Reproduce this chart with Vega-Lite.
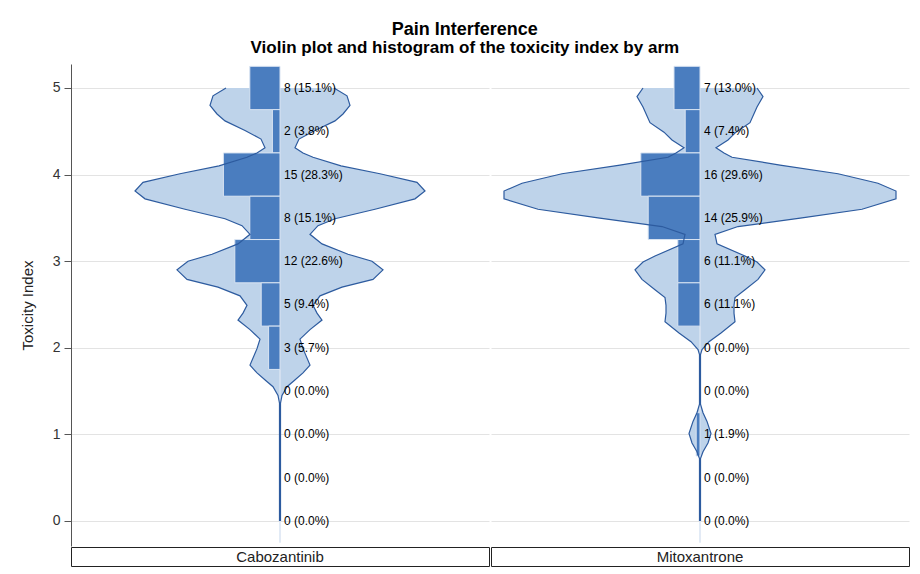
{
  "$schema": "https://vega.github.io/schema/vega-lite/v6.json",
  "autosize": {"type": "pad"},
  "padding": {"left": 20, "top": 21, "right": 11, "bottom": 2},
  "background": "white",
  "title": {
    "text": "Pain Interference",
    "subtitle": "Violin plot and histogram of the toxicity index by arm",
    "anchor": "middle",
    "frame": "bounds",
    "font": "Liberation Sans",
    "fontSize": 18,
    "fontWeight": "bold",
    "color": "#000000",
    "subtitleFont": "Liberation Sans",
    "subtitleFontSize": 17,
    "subtitleFontWeight": "bold",
    "subtitleColor": "#000000",
    "subtitlePadding": 1,
    "offset": 8
  },
  "config": {
    "font": "Liberation Sans",
    "view": {"stroke": null},
    "axisY": {
      "grid": true,
      "gridColor": "#E3E3E3",
      "tickSize": 7,
      "tickColor": "#555555",
      "domainColor": "#555555",
      "labelFontSize": 14,
      "labelColor": "#333333",
      "labelPadding": 4,
      "titleFontSize": 15,
      "titleFontWeight": "normal",
      "titleColor": "#222222",
      "titlePadding": 17
    }
  },
  "datasets": {
    "violin": [
      {"arm": "Cabozantinib", "val": 5.00, "density": 27},
      {"arm": "Cabozantinib", "val": 4.91, "density": 33.5},
      {"arm": "Cabozantinib", "val": 4.80, "density": 35},
      {"arm": "Cabozantinib", "val": 4.70, "density": 31.5},
      {"arm": "Cabozantinib", "val": 4.62, "density": 27.5},
      {"arm": "Cabozantinib", "val": 4.51, "density": 17.5},
      {"arm": "Cabozantinib", "val": 4.41, "density": 9.5},
      {"arm": "Cabozantinib", "val": 4.31, "density": 7.5},
      {"arm": "Cabozantinib", "val": 4.25, "density": 11.5},
      {"arm": "Cabozantinib", "val": 4.20, "density": 16.5},
      {"arm": "Cabozantinib", "val": 4.10, "density": 30.5},
      {"arm": "Cabozantinib", "val": 4.01, "density": 50},
      {"arm": "Cabozantinib", "val": 3.91, "density": 68.5},
      {"arm": "Cabozantinib", "val": 3.81, "density": 72.5},
      {"arm": "Cabozantinib", "val": 3.72, "density": 67.5},
      {"arm": "Cabozantinib", "val": 3.60, "density": 47.5},
      {"arm": "Cabozantinib", "val": 3.49, "density": 27.5},
      {"arm": "Cabozantinib", "val": 3.41, "density": 19},
      {"arm": "Cabozantinib", "val": 3.31, "density": 15},
      {"arm": "Cabozantinib", "val": 3.20, "density": 21},
      {"arm": "Cabozantinib", "val": 3.08, "density": 34},
      {"arm": "Cabozantinib", "val": 3.00, "density": 46},
      {"arm": "Cabozantinib", "val": 2.90, "density": 51.5},
      {"arm": "Cabozantinib", "val": 2.79, "density": 46.5},
      {"arm": "Cabozantinib", "val": 2.70, "density": 31},
      {"arm": "Cabozantinib", "val": 2.60, "density": 20},
      {"arm": "Cabozantinib", "val": 2.49, "density": 16.5},
      {"arm": "Cabozantinib", "val": 2.40, "density": 18.5},
      {"arm": "Cabozantinib", "val": 2.32, "density": 21},
      {"arm": "Cabozantinib", "val": 2.21, "density": 15},
      {"arm": "Cabozantinib", "val": 2.10, "density": 10},
      {"arm": "Cabozantinib", "val": 1.99, "density": 11.5},
      {"arm": "Cabozantinib", "val": 1.80, "density": 15},
      {"arm": "Cabozantinib", "val": 1.71, "density": 11.5},
      {"arm": "Cabozantinib", "val": 1.62, "density": 7},
      {"arm": "Cabozantinib", "val": 1.55, "density": 3.5},
      {"arm": "Cabozantinib", "val": 1.45, "density": 1},
      {"arm": "Cabozantinib", "val": 1.36, "density": 0.25},
      {"arm": "Cabozantinib", "val": 0.00, "density": 0.25},
      {"arm": "Mitoxantrone", "val": 5.00, "density": 28.5},
      {"arm": "Mitoxantrone", "val": 4.90, "density": 31.5},
      {"arm": "Mitoxantrone", "val": 4.78, "density": 28.5},
      {"arm": "Mitoxantrone", "val": 4.60, "density": 25},
      {"arm": "Mitoxantrone", "val": 4.49, "density": 18},
      {"arm": "Mitoxantrone", "val": 4.40, "density": 14},
      {"arm": "Mitoxantrone", "val": 4.31, "density": 8},
      {"arm": "Mitoxantrone", "val": 4.25, "density": 12},
      {"arm": "Mitoxantrone", "val": 4.20, "density": 16},
      {"arm": "Mitoxantrone", "val": 4.11, "density": 40},
      {"arm": "Mitoxantrone", "val": 4.01, "density": 69},
      {"arm": "Mitoxantrone", "val": 3.90, "density": 89},
      {"arm": "Mitoxantrone", "val": 3.81, "density": 98},
      {"arm": "Mitoxantrone", "val": 3.72, "density": 98},
      {"arm": "Mitoxantrone", "val": 3.60, "density": 81},
      {"arm": "Mitoxantrone", "val": 3.50, "density": 51},
      {"arm": "Mitoxantrone", "val": 3.40, "density": 19},
      {"arm": "Mitoxantrone", "val": 3.31, "density": 7.5},
      {"arm": "Mitoxantrone", "val": 3.20, "density": 8.5},
      {"arm": "Mitoxantrone", "val": 3.06, "density": 22.5},
      {"arm": "Mitoxantrone", "val": 2.99, "density": 28.5},
      {"arm": "Mitoxantrone", "val": 2.90, "density": 32.5},
      {"arm": "Mitoxantrone", "val": 2.79, "density": 29},
      {"arm": "Mitoxantrone", "val": 2.67, "density": 22.5},
      {"arm": "Mitoxantrone", "val": 2.58, "density": 17.5},
      {"arm": "Mitoxantrone", "val": 2.49, "density": 17},
      {"arm": "Mitoxantrone", "val": 2.40, "density": 17},
      {"arm": "Mitoxantrone", "val": 2.30, "density": 17.5},
      {"arm": "Mitoxantrone", "val": 2.17, "density": 10.5},
      {"arm": "Mitoxantrone", "val": 2.07, "density": 4.5},
      {"arm": "Mitoxantrone", "val": 1.98, "density": 1},
      {"arm": "Mitoxantrone", "val": 1.92, "density": 0.25},
      {"arm": "Mitoxantrone", "val": 1.35, "density": 0.25},
      {"arm": "Mitoxantrone", "val": 1.25, "density": 1.5},
      {"arm": "Mitoxantrone", "val": 1.15, "density": 3.5},
      {"arm": "Mitoxantrone", "val": 1.01, "density": 5.5},
      {"arm": "Mitoxantrone", "val": 0.90, "density": 4},
      {"arm": "Mitoxantrone", "val": 0.80, "density": 1.5},
      {"arm": "Mitoxantrone", "val": 0.72, "density": 0.25},
      {"arm": "Mitoxantrone", "val": 0.00, "density": 0.25}
    ],
    "hist": [
      {"arm": "Cabozantinib", "bin": 5.0, "lo": 4.75, "hi": 5.25, "n": 8, "pct": 15.1, "label": "8 (15.1%)"},
      {"arm": "Cabozantinib", "bin": 4.5, "lo": 4.25, "hi": 4.75, "n": 2, "pct": 3.8, "label": "2 (3.8%)"},
      {"arm": "Cabozantinib", "bin": 4.0, "lo": 3.75, "hi": 4.25, "n": 15, "pct": 28.3, "label": "15 (28.3%)"},
      {"arm": "Cabozantinib", "bin": 3.5, "lo": 3.25, "hi": 3.75, "n": 8, "pct": 15.1, "label": "8 (15.1%)"},
      {"arm": "Cabozantinib", "bin": 3.0, "lo": 2.75, "hi": 3.25, "n": 12, "pct": 22.6, "label": "12 (22.6%)"},
      {"arm": "Cabozantinib", "bin": 2.5, "lo": 2.25, "hi": 2.75, "n": 5, "pct": 9.4, "label": "5 (9.4%)"},
      {"arm": "Cabozantinib", "bin": 2.0, "lo": 1.75, "hi": 2.25, "n": 3, "pct": 5.7, "label": "3 (5.7%)"},
      {"arm": "Cabozantinib", "bin": 1.5, "lo": 1.25, "hi": 1.75, "n": 0, "pct": 0, "label": "0 (0.0%)"},
      {"arm": "Cabozantinib", "bin": 1.0, "lo": 0.75, "hi": 1.25, "n": 0, "pct": 0, "label": "0 (0.0%)"},
      {"arm": "Cabozantinib", "bin": 0.5, "lo": 0.25, "hi": 0.75, "n": 0, "pct": 0, "label": "0 (0.0%)"},
      {"arm": "Cabozantinib", "bin": 0.0, "lo": -0.25, "hi": 0.25, "n": 0, "pct": 0, "label": "0 (0.0%)"},
      {"arm": "Mitoxantrone", "bin": 5.0, "lo": 4.75, "hi": 5.25, "n": 7, "pct": 13.0, "label": "7 (13.0%)"},
      {"arm": "Mitoxantrone", "bin": 4.5, "lo": 4.25, "hi": 4.75, "n": 4, "pct": 7.4, "label": "4 (7.4%)"},
      {"arm": "Mitoxantrone", "bin": 4.0, "lo": 3.75, "hi": 4.25, "n": 16, "pct": 29.6, "label": "16 (29.6%)"},
      {"arm": "Mitoxantrone", "bin": 3.5, "lo": 3.25, "hi": 3.75, "n": 14, "pct": 25.9, "label": "14 (25.9%)"},
      {"arm": "Mitoxantrone", "bin": 3.0, "lo": 2.75, "hi": 3.25, "n": 6, "pct": 11.1, "label": "6 (11.1%)"},
      {"arm": "Mitoxantrone", "bin": 2.5, "lo": 2.25, "hi": 2.75, "n": 6, "pct": 11.1, "label": "6 (11.1%)"},
      {"arm": "Mitoxantrone", "bin": 2.0, "lo": 1.75, "hi": 2.25, "n": 0, "pct": 0, "label": "0 (0.0%)"},
      {"arm": "Mitoxantrone", "bin": 1.5, "lo": 1.25, "hi": 1.75, "n": 0, "pct": 0, "label": "0 (0.0%)"},
      {"arm": "Mitoxantrone", "bin": 1.0, "lo": 0.75, "hi": 1.25, "n": 1, "pct": 1.9, "label": "1 (1.9%)"},
      {"arm": "Mitoxantrone", "bin": 0.5, "lo": 0.25, "hi": 0.75, "n": 0, "pct": 0, "label": "0 (0.0%)"},
      {"arm": "Mitoxantrone", "bin": 0.0, "lo": -0.25, "hi": 0.25, "n": 0, "pct": 0, "label": "0 (0.0%)"}
    ],
    "arms": [
      {"arm": "Cabozantinib"},
      {"arm": "Mitoxantrone"}
    ]
  },
  "spacing": 0,
  "hconcat": [
    {
      "spacing": 0,
      "vconcat": [
        {
          "width": 418,
          "height": 482,
          "resolve": {"scale": {"x": "independent"}},
          "layer": [
            {
              "data": {"name": "violin"},
              "transform": [{"filter": "datum.arm == 'Cabozantinib'"}],
              "mark": {"type": "area", "orient": "horizontal", "fill": "#BED3EA", "stroke": null},
              "encoding": {
                "y": {"field": "val", "type": "quantitative", "scale": {"domain": [-0.289, 5.277], "nice": false, "zero": false}, "axis": {"values": [0, 1, 2, 3, 4, 5], "title": "Toxicity Index"}},
                "x": {"field": "density", "type": "quantitative", "scale": {"domain": [-104.5, 104.5], "nice": false}, "axis": null},
                "x2": {"datum": 0}
              }
            },
            {
              "data": {"name": "violin"},
              "transform": [{"filter": "datum.arm == 'Cabozantinib'"}],
              "mark": {"type": "area", "orient": "horizontal", "fill": "#BED3EA", "stroke": null},
              "encoding": {
                "y": {"field": "val", "type": "quantitative", "axis": {"values": [0, 1, 2, 3, 4, 5], "title": "Toxicity Index"}},
                "x": {"field": "density", "type": "quantitative", "scale": {"domain": [-104.5, 104.5], "nice": false, "reverse": true}, "axis": null},
                "x2": {"datum": 0}
              }
            },
            {
              "data": {"name": "hist"},
              "transform": [{"filter": "datum.arm == 'Cabozantinib'"}],
              "mark": {"type": "bar", "fill": "#4A7DBF", "stroke": "#D9E4F2", "strokeWidth": 1},
              "encoding": {
                "y": {"field": "lo", "type": "quantitative", "axis": {"values": [0, 1, 2, 3, 4, 5], "title": "Toxicity Index"}},
                "y2": {"field": "hi"},
                "x": {"field": "pct", "type": "quantitative", "scale": {"domain": [-104.5, 104.5], "nice": false, "reverse": true}, "axis": null},
                "x2": {"datum": 0}
              }
            },
            {
              "data": {"name": "violin"},
              "transform": [{"filter": "datum.arm == 'Cabozantinib'"}],
              "mark": {"type": "line", "color": "#2D5B9F", "strokeWidth": 1.2},
              "encoding": {
                "y": {"field": "val", "type": "quantitative", "axis": {"values": [0, 1, 2, 3, 4, 5], "title": "Toxicity Index"}},
                "x": {"field": "density", "type": "quantitative", "scale": {"domain": [-104.5, 104.5], "nice": false}, "axis": null},
                "order": {"field": "val", "type": "quantitative"}
              }
            },
            {
              "data": {"name": "violin"},
              "transform": [{"filter": "datum.arm == 'Cabozantinib'"}],
              "mark": {"type": "line", "color": "#2D5B9F", "strokeWidth": 1.2},
              "encoding": {
                "y": {"field": "val", "type": "quantitative", "axis": {"values": [0, 1, 2, 3, 4, 5], "title": "Toxicity Index"}},
                "x": {"field": "density", "type": "quantitative", "scale": {"domain": [-104.5, 104.5], "nice": false, "reverse": true}, "axis": null},
                "order": {"field": "val", "type": "quantitative"}
              }
            },
            {
              "data": {"name": "hist"},
              "transform": [{"filter": "datum.arm == 'Cabozantinib'"}],
              "mark": {"type": "text", "align": "left", "baseline": "middle", "dx": 4, "fontSize": 12, "color": "#000000", "font": "Liberation Sans"},
              "encoding": {
                "y": {"field": "bin", "type": "quantitative", "axis": {"values": [0, 1, 2, 3, 4, 5], "title": "Toxicity Index"}},
                "x": {"datum": 0, "scale": {"domain": [-104.5, 104.5], "nice": false}, "axis": null},
                "text": {"field": "label"}
              }
            }
          ]
        },
        {
          "width": 418,
          "height": 19,
          "view": {"stroke": "#222222", "strokeWidth": 1},
          "data": {"name": "arms"},
          "transform": [{"filter": "datum.arm == 'Cabozantinib'"}],
          "mark": {"type": "text", "fontSize": 15, "color": "#222222", "baseline": "middle", "align": "center"},
          "encoding": {"text": {"field": "arm"}}
        }
      ]
    },
    {
      "spacing": 0,
      "vconcat": [
        {
          "width": 418,
          "height": 482,
          "resolve": {"scale": {"x": "independent"}},
          "layer": [
            {
              "data": {"name": "violin"},
              "transform": [{"filter": "datum.arm == 'Mitoxantrone'"}],
              "mark": {"type": "area", "orient": "horizontal", "fill": "#BED3EA", "stroke": null},
              "encoding": {
                "y": {"field": "val", "type": "quantitative", "scale": {"domain": [-0.289, 5.277], "nice": false, "zero": false}, "axis": {"values": [0, 1, 2, 3, 4, 5], "title": null, "labels": false, "ticks": false, "domain": false}},
                "x": {"field": "density", "type": "quantitative", "scale": {"domain": [-104.5, 104.5], "nice": false}, "axis": null},
                "x2": {"datum": 0}
              }
            },
            {
              "data": {"name": "violin"},
              "transform": [{"filter": "datum.arm == 'Mitoxantrone'"}],
              "mark": {"type": "area", "orient": "horizontal", "fill": "#BED3EA", "stroke": null},
              "encoding": {
                "y": {"field": "val", "type": "quantitative", "axis": {"values": [0, 1, 2, 3, 4, 5], "title": null, "labels": false, "ticks": false, "domain": false}},
                "x": {"field": "density", "type": "quantitative", "scale": {"domain": [-104.5, 104.5], "nice": false, "reverse": true}, "axis": null},
                "x2": {"datum": 0}
              }
            },
            {
              "data": {"name": "hist"},
              "transform": [{"filter": "datum.arm == 'Mitoxantrone'"}],
              "mark": {"type": "bar", "fill": "#4A7DBF", "stroke": "#D9E4F2", "strokeWidth": 1},
              "encoding": {
                "y": {"field": "lo", "type": "quantitative", "axis": {"values": [0, 1, 2, 3, 4, 5], "title": null, "labels": false, "ticks": false, "domain": false}},
                "y2": {"field": "hi"},
                "x": {"field": "pct", "type": "quantitative", "scale": {"domain": [-104.5, 104.5], "nice": false, "reverse": true}, "axis": null},
                "x2": {"datum": 0}
              }
            },
            {
              "data": {"name": "violin"},
              "transform": [{"filter": "datum.arm == 'Mitoxantrone'"}],
              "mark": {"type": "line", "color": "#2D5B9F", "strokeWidth": 1.2},
              "encoding": {
                "y": {"field": "val", "type": "quantitative", "axis": {"values": [0, 1, 2, 3, 4, 5], "title": null, "labels": false, "ticks": false, "domain": false}},
                "x": {"field": "density", "type": "quantitative", "scale": {"domain": [-104.5, 104.5], "nice": false}, "axis": null},
                "order": {"field": "val", "type": "quantitative"}
              }
            },
            {
              "data": {"name": "violin"},
              "transform": [{"filter": "datum.arm == 'Mitoxantrone'"}],
              "mark": {"type": "line", "color": "#2D5B9F", "strokeWidth": 1.2},
              "encoding": {
                "y": {"field": "val", "type": "quantitative", "axis": {"values": [0, 1, 2, 3, 4, 5], "title": null, "labels": false, "ticks": false, "domain": false}},
                "x": {"field": "density", "type": "quantitative", "scale": {"domain": [-104.5, 104.5], "nice": false, "reverse": true}, "axis": null},
                "order": {"field": "val", "type": "quantitative"}
              }
            },
            {
              "data": {"name": "hist"},
              "transform": [{"filter": "datum.arm == 'Mitoxantrone'"}],
              "mark": {"type": "text", "align": "left", "baseline": "middle", "dx": 4, "fontSize": 12, "color": "#000000", "font": "Liberation Sans"},
              "encoding": {
                "y": {"field": "bin", "type": "quantitative", "axis": {"values": [0, 1, 2, 3, 4, 5], "title": null, "labels": false, "ticks": false, "domain": false}},
                "x": {"datum": 0, "scale": {"domain": [-104.5, 104.5], "nice": false}, "axis": null},
                "text": {"field": "label"}
              }
            }
          ]
        },
        {
          "width": 418,
          "height": 19,
          "view": {"stroke": "#222222", "strokeWidth": 1},
          "data": {"name": "arms"},
          "transform": [{"filter": "datum.arm == 'Mitoxantrone'"}],
          "mark": {"type": "text", "fontSize": 15, "color": "#222222", "baseline": "middle", "align": "center"},
          "encoding": {"text": {"field": "arm"}}
        }
      ]
    }
  ]
}
